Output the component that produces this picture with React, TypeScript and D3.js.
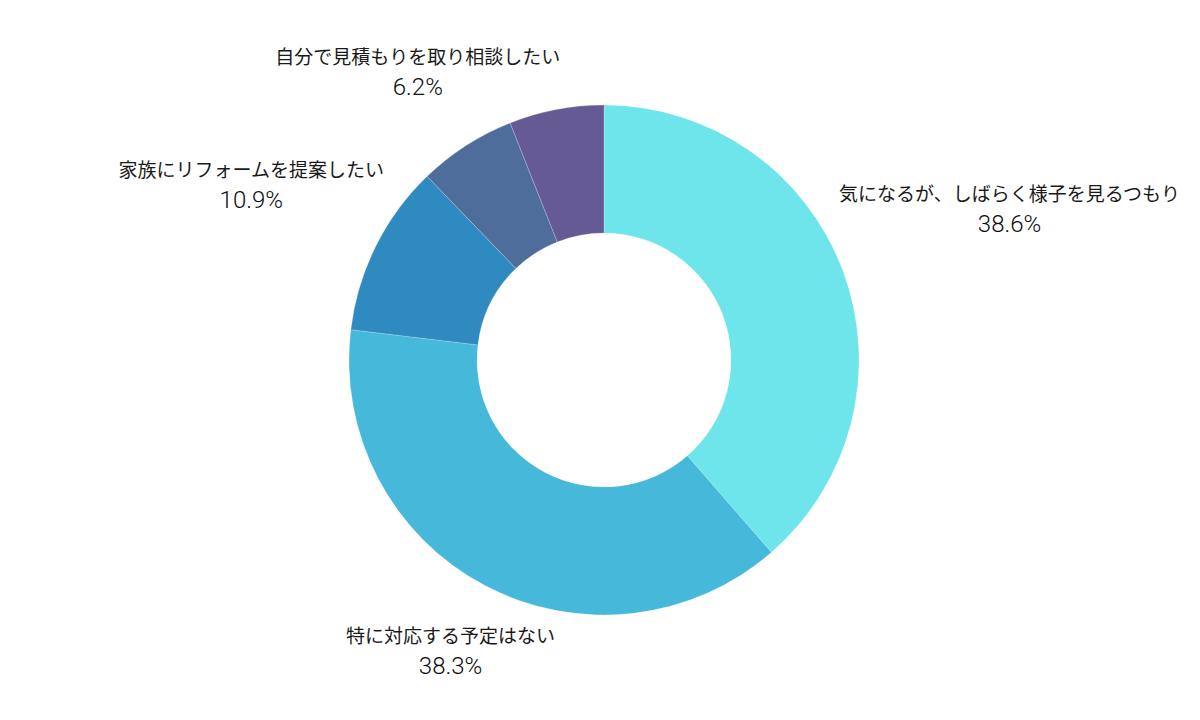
import React, {useEffect, useRef} from 'react';
import * as d3 from 'd3';

// Survey answers, clockwise from 12 o'clock
const categories = [
  '気になるが、しばらく様子を見るつもり',
  '特に対応する予定はない',
  '家族にリフォームを提案したい',
  '自分で見積もりを取り相談したい',
  'その他',
];
const values = [38.6, 38.3, 10.9, 6.2, 6.0];
const colors = ['#6de5ea', '#46b8d9', '#2f8bbf', '#4f6d9b', '#665a94'];
// the last slice has no label in the reference
const showLabel = [true, true, true, true, false];

const width = 1200;
const height = 720;
const cx = 604;
const cy = 360;
const outerRadius = 255;
const innerRadius = 127;
// distance of each label block from the centre (layout only)
const labelDistance = [433, 328, 394, 344, 300];

interface Slice {
  name: string;
  value: number;
  color: string;
  show: boolean;
  dist: number;
}

const App: React.FC = () => {
  const ref = useRef<SVGSVGElement>(null);

  useEffect(() => {
    document.body.style.margin = '0';
    const data: Slice[] = categories.map((name, i) => ({
      name,
      value: values[i],
      color: colors[i],
      show: showLabel[i],
      dist: labelDistance[i],
    }));

    const svg = d3.select(ref.current!);
    svg.selectAll('*').remove();

    const g = svg.append('g').attr('transform', `translate(${cx},${cy})`);

    const pie = d3.pie<Slice>().sort(null).value(d => d.value);
    const arcs = pie(data);

    const arc = d3.arc<d3.PieArcDatum<Slice>>()
      .innerRadius(innerRadius)
      .outerRadius(outerRadius);

    g.selectAll('path')
      .data(arcs)
      .join('path')
      .attr('d', arc)
      .attr('fill', d => d.data.color)
      .attr('stroke', 'rgba(255,255,255,0.35)')
      .attr('stroke-width', 0.6);

    // labels sit on the slice's mid angle
    const labels = g.selectAll('g.label')
      .data(arcs.filter(d => d.data.show))
      .join('g')
      .attr('class', 'label')
      .attr('transform', d => {
        const a = (d.startAngle + d.endAngle) / 2;
        const x = Math.sin(a) * d.data.dist;
        const y = -Math.cos(a) * d.data.dist;
        return `translate(${x},${y})`;
      });

    labels.append('text')
      .attr('y', -7)
      .attr('text-anchor', 'middle')
      .attr('font-size', 19)
      .attr('fill', '#1a1a1a')
      .text(d => d.data.name);

    labels.append('text')
      .attr('y', 24)
      .attr('text-anchor', 'middle')
      .attr('font-size', 24)
      .attr('font-weight', 300)
      .attr('font-family', 'Roboto, "Noto Sans", sans-serif')
      .attr('fill', '#0d0d0d')
      .text(d => `${d.data.value.toFixed(1)}%`);
  }, []);

  return (
    <svg
      ref={ref}
      width={width}
      height={height}
      viewBox={`0 0 ${width} ${height}`}
      style={{display: 'block', background: '#fff', fontFamily: '"Noto Sans CJK JP", "Noto Sans", sans-serif'}}
    />
  );
};

export default App;
